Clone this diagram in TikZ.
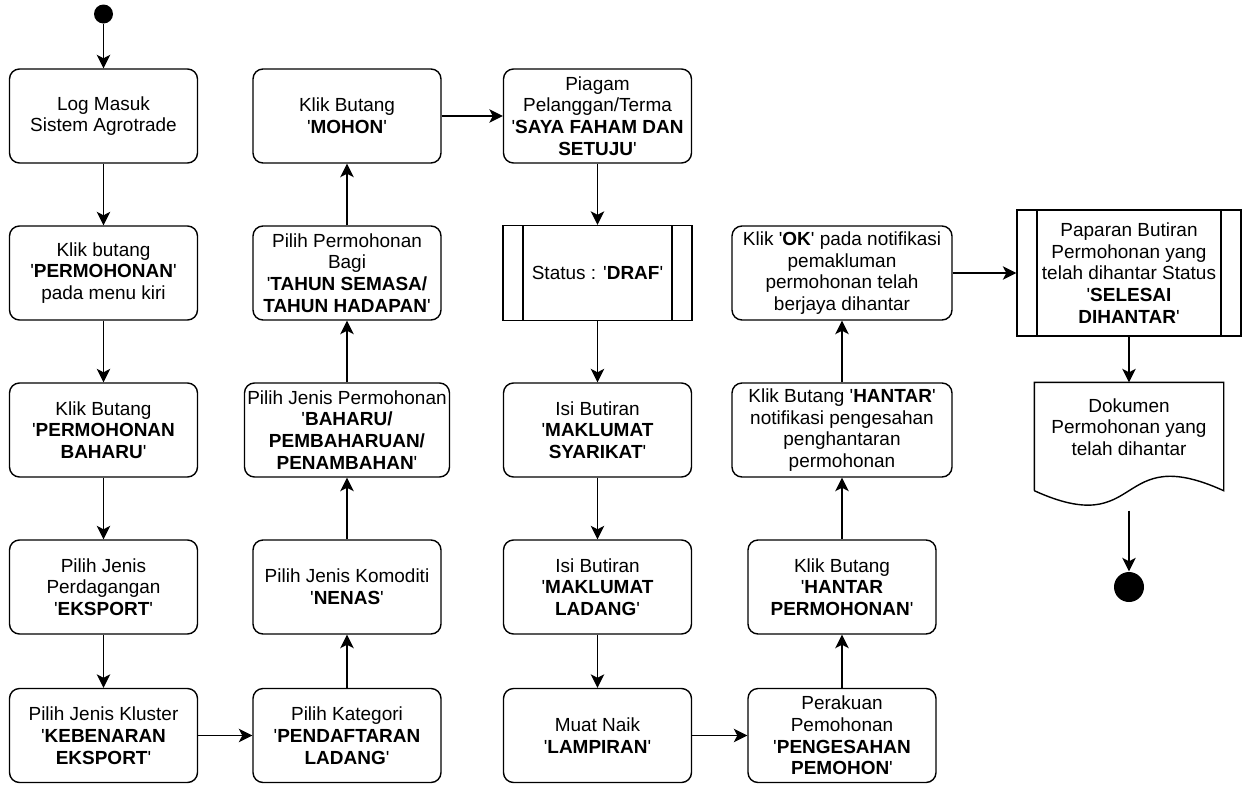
\documentclass[tikz,border=0pt]{standalone}
\usepackage{fontspec}
\setmainfont{Liberation Sans}
\usepackage{tikz}
\usetikzlibrary{positioning, arrows.meta}

\newcommand{\qs}{\textquotesingle}

\begin{document}
\begin{tikzpicture}[node distance=3.14cm, on grid, auto,
    >={Stealth[length=0.27cm, width=0.27cm, inset=0.07cm]},
    line width=0.8pt,
    every node/.style={font=\fontsize{10.8}{12.4}\selectfont},
    act/.style={draw, rounded corners=0.2cm, minimum width=3.76cm, minimum height=1.88cm, align=center, inner sep=1pt},
    proc/.style={draw, minimum width=3.78cm, minimum height=1.9cm, align=center, inner sep=1pt,
      path picture={\draw ([xshift=0.4cm]path picture bounding box.north west) -- ([xshift=0.4cm]path picture bounding box.south west)
        ([xshift=-0.4cm]path picture bounding box.north east) -- ([xshift=-0.4cm]path picture bounding box.south east);}},
    dotnode/.style={circle, fill=black, inner sep=0pt}]
   \useasboundingbox (0,0) rectangle (24.86,-15.7);

   % First column
   \node[act] (login) at (2.07,-2.32) {Log Masuk\\Sistem Agrotrade};
   \node[dotnode, minimum size=0.38cm] (start) [above=2.04cm of login] {};
   \node[act] (menu) [below=of login] {Klik butang\\\qs\textbf{PERMOHONAN}\qs\\pada menu kiri};
   \node[act] (baharu) [below=of menu] {Klik Butang\\\qs\textbf{PERMOHONAN}\\\textbf{BAHARU}\qs};
   \node[act] (eksport) [below=of baharu] {Pilih Jenis\\Perdagangan\\\qs\textbf{EKSPORT}\qs};
   \node[act] (kluster) [below=2.97cm of eksport] {Pilih Jenis Kluster\\\qs\textbf{KEBENARAN}\\\textbf{EKSPORT}\qs};

   % Second column
   \node[act] (kategori) [right=4.87cm of kluster] {Pilih Kategori\\\qs\textbf{PENDAFTARAN}\\\textbf{LADANG}\qs};
   \node[act] (komoditi) [above=2.97cm of kategori] {Pilih Jenis Komoditi\\\qs\textbf{NENAS}\qs};
   \node[act, minimum width=4.1cm] (jenis) [above=of komoditi] {Pilih Jenis Permohonan\\\qs\textbf{BAHARU/}\\\textbf{PEMBAHARUAN/}\\\textbf{PENAMBAHAN}\qs};
   \node[act] (tahun) [above=of jenis] {Pilih Permohonan\\Bagi\\\qs\textbf{TAHUN SEMASA/}\\\textbf{TAHUN HADAPAN}\qs};
   \node[act] (mohon) [above=of tahun] {Klik Butang\\\qs\textbf{MOHON}\qs};

   % Third column
   \node[act] (piagam) [right=5.01cm of mohon] {Piagam\\Pelanggan/Terma\\\qs\textbf{SAYA FAHAM DAN}\\\textbf{SETUJU}\qs};
   \node[proc] (draf) [below=of piagam] {Status : \qs\textbf{DRAF}\qs};
   \node[act] (syarikat) [below=of draf] {Isi Butiran\\\qs\textbf{MAKLUMAT}\\\textbf{SYARIKAT}\qs};
   \node[act] (ladang) [below=of syarikat] {Isi Butiran\\\qs\textbf{MAKLUMAT}\\\textbf{LADANG}\qs};
   \node[act] (lampiran) [below=2.97cm of ladang] {Muat Naik\\\qs\textbf{LAMPIRAN}\qs};

   % Fourth column
   \node[act] (perakuan) [right=4.89cm of lampiran] {Perakuan\\Pemohonan\\\qs\textbf{PENGESAHAN}\\\textbf{PEMOHON}\qs};
   \node[act] (hantar) [above=2.97cm of perakuan] {Klik Butang\\\qs\textbf{HANTAR}\\\textbf{PERMOHONAN}\qs};
   \node[act, minimum width=4.4cm] (notifikasi) [above=of hantar] {Klik Butang \qs\textbf{HANTAR}\qs\\notifikasi pengesahan\\penghantaran\\permohonan};
   \node[act, minimum width=4.4cm] (ok) [above=of notifikasi] {Klik \qs\textbf{OK}\qs\ pada notifikasi\\pemakluman\\permohonan telah\\berjaya dihantar};

   % Last column
   \node[proc, minimum width=4.48cm, minimum height=2.52cm] (paparan) [right=5.74cm of ok] {Paparan Butiran\\Permohonan yang\\telah dihantar Status\\\qs\textbf{SELESAI}\\\textbf{DIHANTAR}\qs};
   \node[minimum width=3.76cm, minimum height=1.76cm, align=center, inner sep=1pt] (doc) [below=3.08cm of paparan] {Dokumen\\Permohonan yang\\telah dihantar};
   \draw ([yshift=-0.38cm]doc.south west) -- (doc.north west) -- (doc.north east) -- ([yshift=-0.38cm]doc.south east)
     .. controls +(-2.2,1.0) and +(2.2,-1.0) .. ([yshift=-0.38cm]doc.south west);
   \coordinate (docend) at ([yshift=-0.78cm]doc.south);
   \node[dotnode, minimum size=0.6cm] (end) [below=3.2cm of doc] {};

   % Transitions
   \path[->]
    (start) edge (login)
    (login) edge (menu)
    (menu) edge (baharu)
    (baharu) edge (eksport)
    (eksport) edge (kluster)
    (kluster) edge (kategori)
    (kategori) edge (komoditi)
    (komoditi) edge (jenis)
    (jenis) edge (tahun)
    (tahun) edge (mohon)
    (mohon) edge (piagam)
    (piagam) edge (draf)
    (draf) edge (syarikat)
    (syarikat) edge (ladang)
    (ladang) edge (lampiran)
    (lampiran) edge (perakuan)
    (perakuan) edge (hantar)
    (hantar) edge (notifikasi)
    (notifikasi) edge (ok)
    (ok) edge (paparan)
    (paparan) edge (doc)
    (docend) edge (end);
\end{tikzpicture}
\end{document}
